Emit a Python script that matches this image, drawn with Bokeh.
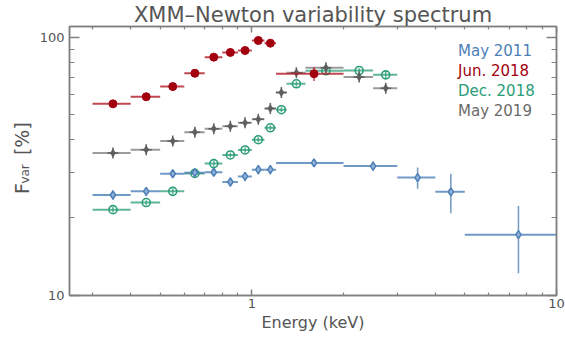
import math
from bokeh.plotting import figure
from bokeh.layouts import row
from bokeh.models import (Range1d, FixedTicker, PrintfTickFormatter, LogAxis, Label,
                          Legend, LegendItem, ColumnDataSource)
from bokeh.embed import file_html
from bokeh.resources import INLINE

# ---------------- data ----------------
may11_lo = [0.3, 0.4, 0.5, 0.6, 0.7, 0.8, 0.9, 1.0, 1.1, 1.2, 2.0, 3.0, 4.0, 5.0]
may11_hi = [0.4, 0.5, 0.6, 0.7, 0.8, 0.9, 1.0, 1.1, 1.2, 2.0, 3.0, 4.0, 5.0, 10.0]
may11_f = [24.5, 25.3, 29.6, 29.9, 30.0, 27.5, 28.9, 30.7, 30.7, 32.6, 31.7, 28.6, 25.2, 17.2]
may11_err = [1.0, 1.0, 1.0, 1.0, 1.0, 1.1, 1.2, 1.3, 1.3, 0.8, 1.3, 2.7, 4.4, 5.0]

jun18_lo = [0.3, 0.4, 0.5, 0.6, 0.7, 0.8, 0.9, 1.0, 1.1, 1.2]
jun18_hi = [0.4, 0.5, 0.6, 0.7, 0.8, 0.9, 1.0, 1.1, 1.2, 2.0]
jun18_f = [55.2, 58.8, 64.4, 72.5, 83.7, 87.3, 88.8, 97.1, 94.8, 72.2]
jun18_err = [1.0, 1.0, 1.0, 1.2, 1.3, 1.5, 1.6, 1.8, 1.8, 4.5]

dec18_lo = [0.3, 0.4, 0.5, 0.6, 0.7, 0.8, 0.9, 1.0, 1.1, 1.2, 1.3, 1.5, 2.0, 2.5]
dec18_hi = [0.4, 0.5, 0.6, 0.7, 0.8, 0.9, 1.0, 1.1, 1.2, 1.3, 1.5, 2.0, 2.5, 3.0]
dec18_f = [21.5, 22.9, 25.3, 29.7, 32.4, 35.0, 36.6, 40.1, 44.6, 52.4, 66.0, 74.1, 74.3, 71.5]
dec18_err = [0.5, 0.5, 0.6, 0.7, 0.8, 0.8, 0.9, 1.0, 1.0, 1.2, 1.5, 1.5, 1.6, 2.0]

may19_lo = [0.3, 0.4, 0.5, 0.6, 0.7, 0.8, 0.9, 1.0, 1.1, 1.2, 1.3, 1.5, 2.0, 2.5]
may19_hi = [0.4, 0.5, 0.6, 0.7, 0.8, 0.9, 1.0, 1.1, 1.2, 1.3, 1.5, 2.0, 2.5, 3.0]
may19_f = [35.6, 36.7, 39.6, 42.9, 44.2, 45.2, 46.6, 48.1, 53.0, 61.1, 72.8, 76.1, 70.2, 63.5]
may19_err = [1.0, 1.0, 1.0, 1.0, 1.0, 1.0, 1.0, 1.1, 1.2, 1.4, 1.6, 1.8, 1.8, 2.2]

labels = ["May 2011", "Jun. 2018", "Dec. 2018", "May 2019"]
x_major = [1, 10]
x_minor = [0.3, 0.4, 0.5, 0.6, 0.7, 0.8, 0.9, 2, 3, 4, 5, 6, 7, 8, 9]
y_major = [10, 100]
y_minor = [20, 30, 40, 50, 60, 70, 80, 90]

BLUE = "#4d7fb6"
RED = "#a3000f"
GREEN = "#2a9c78"
GREY = "#5e5e5e"
AXC = "#808080"
TXT = "#555555"
FONT = "DejaVu Sans"

X0, X1 = 0.252, 10.0
Y0, Y1 = 10.0, 110.0

W, H = 565, 339
LW = 36                      # width of the side strip holding the y-axis title
BL, BR, BT, BB = 67 - LW, 9, 26, 44

# ---------- side strip with the y-axis title (pixel coordinates) ----------
side = figure(width=LW, height=H, x_range=Range1d(0, LW), y_range=Range1d(H, 0),
              output_backend="svg", toolbar_location=None,
              x_axis_location=None, y_axis_location=None,
              min_border_left=0, min_border_right=0, min_border_top=0, min_border_bottom=0)
side.outline_line_color = None
side.xgrid.visible = False
side.ygrid.visible = False
side.background_fill_color = "white"
side.border_fill_color = "white"
ang = math.pi / 2
side.add_layout(Label(x=21, y=211, text="F", angle=ang, text_align="left",
                      text_baseline="alphabetic", text_font=FONT, text_font_size="19px",
                      text_color=TXT))
side.add_layout(Label(x=24, y=198, text="var", angle=ang, text_align="left",
                      text_baseline="alphabetic", text_font=FONT, text_font_size="12px",
                      text_color=TXT))
side.add_layout(Label(x=21, y=162, text="[%]", angle=ang, text_align="left",
                      text_baseline="alphabetic", text_font=FONT, text_font_size="19px",
                      text_color=TXT))

# ---------- main plot ----------
p = figure(x_axis_type="log", y_axis_type="log",
           x_range=Range1d(X0, X1), y_range=Range1d(Y0, Y1),
           width=W - LW, height=H, output_backend="svg", toolbar_location=None,
           min_border_left=BL, min_border_right=BR, min_border_top=BT, min_border_bottom=BB)
p.background_fill_color = "white"
p.border_fill_color = "white"
p.xgrid.visible = False
p.ygrid.visible = False
p.outline_line_color = AXC
p.outline_line_width = 1.5

p.title.text = "XMM\u2013Newton variability spectrum"
p.title.align = "center"
p.title.text_font = FONT
p.title.text_font_size = "21px"
p.title.text_font_style = "normal"
p.title.text_color = TXT
p.title.standoff = 0
p.title.offset = 0


def src(lo, hi, f, err):
    xc = [(a + b) / 2 for a, b in zip(lo, hi)]
    return ColumnDataSource(dict(lo=lo, hi=hi, x=xc, f=f,
                                 flo=[v - e for v, e in zip(f, err)],
                                 fhi=[v + e for v, e in zip(f, err)]))


s_dec = src(dec18_lo, dec18_hi, dec18_f, dec18_err)
s_may19 = src(may19_lo, may19_hi, may19_f, may19_err)
s_may11 = src(may11_lo, may11_hi, may11_f, may11_err)
s_jun = src(jun18_lo, jun18_hi, jun18_f, jun18_err)


def bars(s, color, alpha=0.75):
    p.segment(x0="lo", x1="hi", y0="f", y1="f", source=s, line_color=color,
              line_width=2, line_alpha=alpha)
    p.segment(x0="x", x1="x", y0="flo", y1="fhi", source=s, line_color=color,
              line_width=1.5, line_alpha=alpha)


# Dec 2018
bars(s_dec, GREEN)
p.scatter(x="x", y="f", source=s_dec, marker="circle", size=8, fill_color="white",
          fill_alpha=0.0, line_color=GREEN, line_width=1.6)
# May 2019
bars(s_may19, "#8a8a8a", 0.85)
p.scatter(x="x", y="f", source=s_may19, marker="cross", size=11, line_color=GREY, line_width=1.5)
p.scatter(x="x", y="f", source=s_may19, marker="diamond", size=8, fill_color=GREY,
          line_color=GREY, line_width=0.5)
# May 2011
bars(s_may11, BLUE, 0.8)
p.scatter(x="x", y="f", source=s_may11, marker="diamond", size=8, fill_color="#8fb1d8",
          line_color=BLUE, line_width=1.5)
# Jun 2018
bars(s_jun, "#b01a25", 0.8)
p.scatter(x="x", y="f", source=s_jun, marker="circle", size=8, fill_color=RED, line_color=RED)

# legend-only glyphs
empty = lambda: ColumnDataSource(dict(x=[], y=[]))
lg_blue = p.scatter(x="x", y="y", source=empty(), marker="diamond", size=14,
                    fill_alpha=0, line_color=BLUE, line_width=2)
lg_red = p.scatter(x="x", y="y", source=empty(), marker="circle", size=12,
                   fill_color=RED, line_color=RED)
lg_green = p.scatter(x="x", y="y", source=empty(), marker="circle", size=12,
                     fill_alpha=0, line_color=GREEN, line_width=2)
lg_grey1 = p.scatter(x="x", y="y", source=empty(), marker="cross", size=12,
                     line_color=GREY, line_width=1.5)
lg_grey2 = p.scatter(x="x", y="y", source=empty(), marker="diamond", size=8,
                     fill_color=GREY, line_color=GREY, line_width=0.5)

leg_specs = [(labels[0], [lg_blue], BLUE), (labels[1], [lg_red], RED),
             (labels[2], [lg_green], GREEN), (labels[3], [lg_grey1, lg_grey2], "#6a6a6a")]
for i, (lab, rends, col) in enumerate(leg_specs):
    leg = Legend(items=[LegendItem(label=lab, renderers=rends)],
                 location=(369, 234 - 20 * i), orientation="vertical",
                 padding=0, margin=0, spacing=0, border_line_color=None,
                 background_fill_alpha=0, glyph_width=14, glyph_height=20,
                 label_height=20, label_standoff=6, label_text_font_size="15px",
                 label_text_color=col, label_text_font=FONT)
    p.add_layout(leg)


def style_axis(ax, major_in, minor_in, show_labels=True):
    ax.axis_line_color = AXC
    ax.axis_line_width = 1.5
    ax.major_tick_line_color = AXC
    ax.minor_tick_line_color = AXC
    ax.major_tick_line_width = 1.5
    ax.minor_tick_line_width = 1.2
    ax.major_tick_in = major_in
    ax.major_tick_out = 0
    ax.minor_tick_in = minor_in
    ax.minor_tick_out = 0
    ax.formatter = PrintfTickFormatter(format="%d")
    ax.major_label_text_font = FONT
    ax.major_label_text_color = TXT
    if show_labels:
        ax.major_label_text_font_size = "13px"
    else:
        ax.major_label_text_font_size = "1px"
        ax.major_label_text_alpha = 0
        ax.major_label_standoff = 0


p.xaxis.ticker = FixedTicker(ticks=x_major, minor_ticks=x_minor)
p.yaxis.ticker = FixedTicker(ticks=y_major, minor_ticks=y_minor)
style_axis(p.xaxis[0], 6, 3)
style_axis(p.yaxis[0], 10, 5)
p.xaxis.major_label_standoff = 3
p.yaxis.major_label_standoff = 5
p.xaxis.axis_label = "Energy (keV)"
p.xaxis.axis_label_text_font = FONT
p.xaxis.axis_label_text_font_size = "16px"
p.xaxis.axis_label_text_font_style = "normal"
p.xaxis.axis_label_text_color = TXT
p.xaxis.axis_label_standoff = 2

top = LogAxis(ticker=FixedTicker(ticks=x_major, minor_ticks=x_minor))
style_axis(top, 6, 3, show_labels=False)
p.add_layout(top, "above")
right = LogAxis(ticker=FixedTicker(ticks=y_major, minor_ticks=y_minor))
style_axis(right, 10, 5, show_labels=False)
p.add_layout(right, "right")

layout = row(side, p, spacing=0)
open("out.html", "w").write(file_html(layout, INLINE))
